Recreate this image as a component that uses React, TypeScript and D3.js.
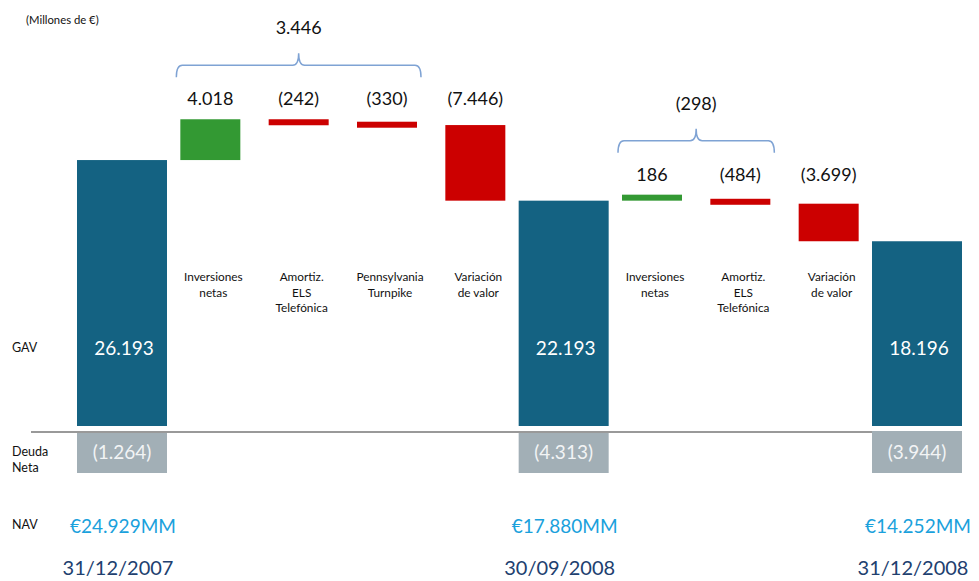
import React from "react";
import * as d3 from "d3";

// ---- data ----
const columnKeys = ["gav2007", "inv1", "els1", "penn", "var1", "gav2008q3", "inv2", "els2", "var2", "gav2008"];
const columnKinds = ["total", "step", "step", "step", "step", "total", "step", "step", "step", "total"];
const columnValues = [26193, 4018, -242, -330, -7446, 22193, 186, -484, -3699, 18196];
const categoryLabels: string[][] = [
  [],
  ["Inversiones", "netas"],
  ["Amortiz.", "ELS", "Telefónica"],
  ["Pennsylvania", "Turnpike"],
  ["Variación", "de valor"],
  [],
  ["Inversiones", "netas"],
  ["Amortiz.", "ELS", "Telefónica"],
  ["Variación", "de valor"],
  [],
];
const debtValues = [-1264, -4313, -3944];
const dateLabels = ["31/12/2007", "30/09/2008", "31/12/2008"];
const braceGroups = [[1, 3], [6, 7]];
const rowLabels = ["GAV", "Deuda", "Neta", "NAV"];
const unitLabel = "(Millones de €)";

// ---- formatting ----
const locale = d3.formatLocale({ decimal: ",", thousands: ".", grouping: [3], currency: ["€", ""] });
const fmtInt = locale.format(",d");
const fmtSigned = (v: number) => (v < 0 ? `(${fmtInt(-v)})` : fmtInt(v));

const W = 979;
const H = 581;
const FONT = "Lato, 'Open Sans', sans-serif";

const COLORS = {
  total: "#146282",
  up: "#339933",
  down: "#cc0000",
  debt: "#a2afb6",
  debtText: "#f2f4f5",
  axis: "#999999",
  brace: "#7fa3d4",
  nav: "#1aa1dc",
  date: "#21406f",
  text: "#111111",
};

export default function App() {
  React.useEffect(() => {
    document.body.style.margin = "0";
  }, []);

  const x = d3.scalePoint<string>().domain(columnKeys).range([122, 917]);
  const y = d3.scaleLinear().domain([0, 30000]).range([426, 121.4]);
  const totalW = 90;
  const stepW = 60;
  const minH = 6;

  // waterfall computation
  let running = 0;
  const cols = columnKeys.map((k, i) => {
    const kind = columnKinds[i];
    const v = columnValues[i];
    let start: number, end: number;
    if (kind === "total") {
      start = 0;
      end = v;
      running = v;
    } else {
      start = running;
      end = running + v;
      running = end;
    }
    const yTop = y(Math.max(start, end));
    const yBot = y(Math.min(start, end));
    let h = yBot - yTop;
    let top = yTop;
    if (h < minH) {
      if (v >= 0) top = yBot - minH;
      h = minH;
    }
    const w = kind === "total" ? totalW : stepW;
    const cx = x(k) as number;
    return { k, i, kind, v, start, end, top, h, w, cx, x0: cx - w / 2, x1: cx + w / 2 };
  });

  // segments of steps between totals
  const segments: number[][] = [];
  let cur: number[] = [];
  cols.forEach((c) => {
    if (c.kind === "total") {
      if (cur.length) segments.push(cur);
      cur = [];
    } else cur.push(c.i);
  });

  const segLabelY = new Map<number, number>();
  segments.forEach((seg) => {
    const minTop = d3.min(seg, (i) => cols[i].top) as number;
    seg.forEach((i) => segLabelY.set(i, minTop - 14));
  });

  const totals = cols.filter((c) => c.kind === "total");
  const baseY = y(0);
  const lineY = baseY + 6;
  const debtTop = lineY - 1;
  const debtH = 42;

  const bracePath = (x0: number, x1: number, yb: number) => {
    const ym = yb - 12;
    const yt = yb - 24;
    const xm = (x0 + x1) / 2;
    const r = 6;
    return `M${x0},${yb} Q${x0},${ym} ${x0 + r},${ym} L${xm - r},${ym} Q${xm},${ym} ${xm},${yt} Q${xm},${ym} ${xm + r},${ym} L${x1 - r},${ym} Q${x1},${ym} ${x1},${yb}`;
  };

  return (
    <svg width={W} height={H} style={{ display: "block", position: "absolute", left: 0, top: 0 }} fontFamily={FONT}>
      <rect width={W} height={H} fill="#ffffff" />
      <text x={26} y={24} fontSize={11.3} fill={COLORS.text}>{unitLabel}</text>

      {/* row labels */}
      <text x={12} y={352} fontSize={12.5} fill={COLORS.text}>{rowLabels[0]}</text>
      <text x={12} y={456} fontSize={12.5} fill={COLORS.text}>{rowLabels[1]}</text>
      <text x={12} y={472} fontSize={12.5} fill={COLORS.text}>{rowLabels[2]}</text>
      <text x={12} y={529} fontSize={12.5} fill={COLORS.text}>{rowLabels[3]}</text>

      {/* bars */}
      {cols.map((c) => (
        <rect
          key={c.k}
          x={c.x0}
          y={c.top}
          width={c.w}
          height={c.h}
          fill={c.kind === "total" ? COLORS.total : c.v >= 0 ? COLORS.up : COLORS.down}
        />
      ))}

      {/* debt boxes */}
      {totals.map((c, j) => (
        <g key={"debt" + j}>
          <rect x={c.x0} y={debtTop} width={c.w} height={debtH} fill={COLORS.debt} />
          <text x={c.cx} y={debtTop + debtH / 2 + 7} textAnchor="middle" fontSize={19} fill={COLORS.debtText}>
            {fmtSigned(debtValues[j])}
          </text>
        </g>
      ))}

      {/* baseline */}
      <line x1={31} x2={totals[totals.length - 1].x0} y1={lineY} y2={lineY} stroke={COLORS.axis} strokeWidth={2} />

      {/* total labels inside bars */}
      {totals.map((c) => (
        <text key={"tv" + c.k} x={c.cx + 2} y={355} textAnchor="middle" fontSize={19} fill="#ffffff">
          {fmtSigned(c.v)}
        </text>
      ))}

      {/* step value labels */}
      {cols.filter((c) => c.kind === "step").map((c) => (
        <text key={"sv" + c.k} x={c.cx} y={segLabelY.get(c.i)} textAnchor="middle" fontSize={18} fill={COLORS.text}>
          {fmtSigned(c.v)}
        </text>
      ))}

      {/* category labels */}
      {cols.map((c) =>
        categoryLabels[c.i].map((line, li) => (
          <text key={"cl" + c.k + li} x={c.cx + 3} y={281 + li * 15.5} textAnchor="middle" fontSize={11.8} fill={COLORS.text}>
            {line}
          </text>
        ))
      )}

      {/* braces */}
      {braceGroups.map(([a, b], gi) => {
        const ca = cols[a];
        const cb = cols[b];
        const yb = (segLabelY.get(a) as number) - 28;
        const sum = d3.sum(columnValues.slice(a, b + 1));
        const xm = (ca.x0 - 4 + cb.x1 + 4) / 2;
        return (
          <g key={"br" + gi}>
            <path d={bracePath(ca.x0 - 4, cb.x1 + 4, yb)} fill="none" stroke={COLORS.brace} strokeWidth={1.5} />
            <text x={xm} y={yb - 43} textAnchor="middle" fontSize={18} fill={COLORS.text}>
              {fmtSigned(sum)}
            </text>
          </g>
        );
      })}

      {/* NAV */}
      {totals.map((c, j) => (
        <text key={"nav" + j} x={c.cx + 1} y={533} textAnchor="middle" fontSize={19} fill={COLORS.nav}>
          {locale.format("$,d")(c.v + debtValues[j]) + "MM"}
        </text>
      ))}

      {/* dates */}
      {totals.map((c, j) => (
        <text key={"dt" + j} x={c.cx - 4} y={575} textAnchor="middle" fontSize={20} fill={COLORS.date}>
          {dateLabels[j]}
        </text>
      ))}
    </svg>
  );
}
